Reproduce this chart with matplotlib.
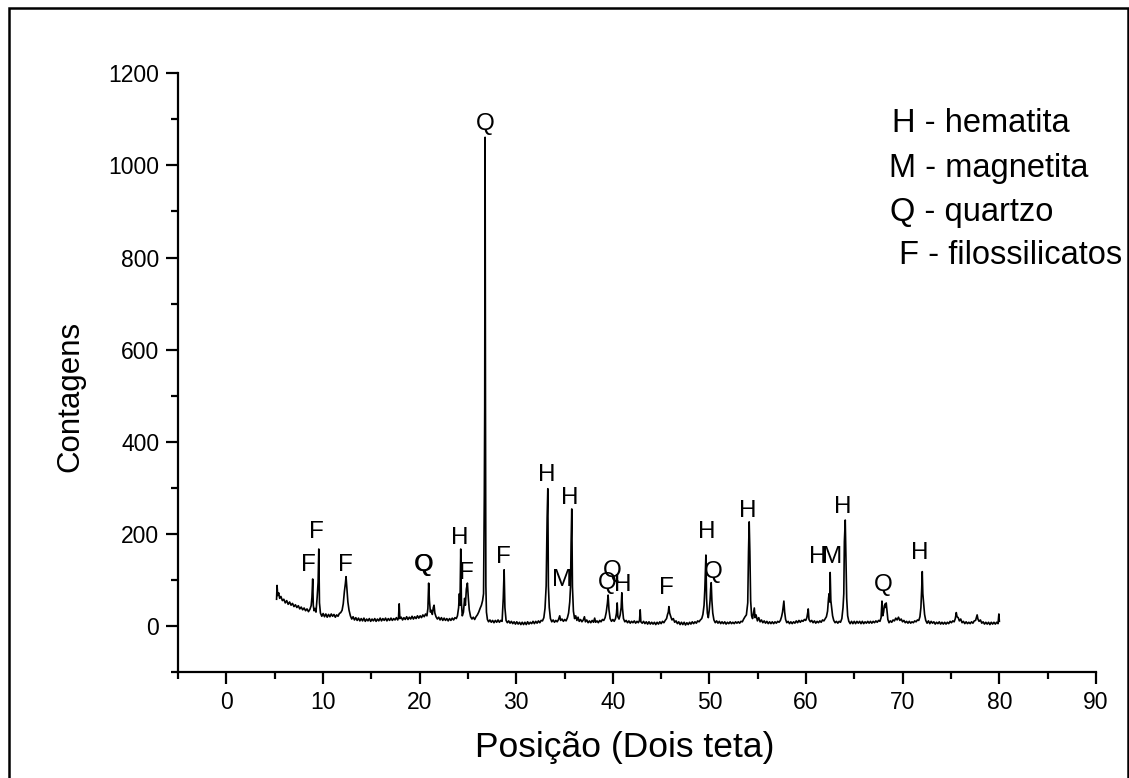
import matplotlib
matplotlib.use("Agg")
import matplotlib.pyplot as plt
from matplotlib.patches import Rectangle

plt.rcParams['font.family'] = ['Liberation Sans', 'DejaVu Sans']

# ---- measured diffraction scan: (2theta, counts) ----
scan_low = [(5.2,58),(5.25,88),(5.32,66),(5.42,72),(5.52,60),(5.65,64),(5.8,55),(5.95,58),(6.1,50),(6.25,55),(6.4,47),(6.55,52),(6.7,45),(6.85,49),(7.0,42),(7.15,46),(7.3,40),(7.45,44),(7.6,37),(7.75,41),(7.9,35),(8.05,39),(8.2,33),(8.35,37),(8.5,31),(8.65,36),(8.78,44),(8.86,62),(8.94,102),(9.0,45),(9.08,33),(9.18,38),(9.28,30),(9.4,62),(9.5,95),(9.57,167),(9.64,50),(9.74,28),(9.88,21),(10.02,27),(10.16,20),(10.3,26),(10.44,19),(10.58,25),(10.72,20),(10.86,26),(11.0,21),(11.14,25),(11.28,19),(11.42,24),(11.56,21),(11.7,27),(11.84,29),(11.98,34),(12.1,48),(12.22,75),(12.32,92),(12.39,107),(12.48,80),(12.58,52),(12.7,34),(12.84,22),(12.98,15),(13.12,20),(13.26,13),(13.4,18),(13.54,12),(13.68,17),(13.82,11),(13.96,16),(14.1,11),(14.24,17),(14.38,10),(14.52,15),(14.66,11),(14.8,16),(14.94,10),(15.08,15),(15.22,11),(15.36,16),(15.5,10),(15.64,15),(15.78,11),(15.92,17),(16.06,11),(16.2,16),(16.34,12),(16.48,17),(16.62,11),(16.76,16),(16.9,12),(17.04,17),(17.18,12),(17.32,16),(17.46,13),(17.6,18),(17.74,13),(17.82,18),(17.89,48),(17.96,16),(18.1,19),(18.24,13),(18.38,18),(18.52,14),(18.66,20),(18.8,14),(18.94,19),(19.08,15),(19.22,21),(19.36,15),(19.5,20),(19.64,16),(19.78,22),(19.92,17),(20.06,22),(20.2,18),(20.34,24),(20.48,20),(20.62,26),(20.76,22),(20.86,38),(20.94,93),(21.02,55),(21.12,30),(21.22,34),(21.32,25),(21.42,40),(21.5,45),(21.58,28),(21.7,20)]

scan_mid = [(21.84,15),(21.98,19),(22.12,13),(22.26,18),(22.4,12),(22.54,17),(22.68,12),(22.82,16),(22.96,11),(23.1,16),(23.24,12),(23.38,17),(23.52,13),(23.66,18),(23.8,16),(23.92,22),(24.04,40),(24.12,70),(24.18,45),(24.26,167),(24.33,50),(24.42,22),(24.54,30),(24.66,60),(24.74,45),(24.84,80),(24.95,93),(25.04,62),(25.14,35),(25.28,20),(25.42,15),(25.56,19),(25.7,14),(25.84,20),(25.98,24),(26.12,30),(26.26,38),(26.4,45),(26.52,55),(26.62,70),(26.7,285),(26.74,474),(26.78,1061),(26.82,474),(26.86,87),(26.92,30),(27.02,14),(27.14,9),(27.28,13),(27.42,8),(27.56,12),(27.7,7),(27.84,12),(27.98,8),(28.12,13),(28.26,8),(28.4,12),(28.54,10),(28.66,60),(28.75,122),(28.83,40),(28.95,12),(29.08,7),(29.22,11),(29.36,6),(29.5,10),(29.64,5),(29.78,9),(29.92,4),(30.06,9),(30.2,4),(30.34,8),(30.48,3),(30.62,8),(30.76,3),(30.9,8),(31.04,3),(31.18,9),(31.32,4),(31.46,8),(31.6,5),(31.74,10),(31.88,5),(32.02,10),(32.16,6),(32.3,11),(32.44,7),(32.58,12),(32.72,11),(32.86,18),(32.98,38),(33.1,87),(33.2,235),(33.27,298),(33.33,87),(33.42,40),(33.54,16),(33.68,9),(33.82,13),(33.96,8),(34.1,12),(34.24,9),(34.38,14),(34.5,22),(34.6,12),(34.74,15),(34.88,10),(35.02,14),(35.16,11),(35.3,18),(35.42,28),(35.54,52),(35.62,85),(35.68,180),(35.75,254),(35.82,85),(35.92,32),(36.04,16),(36.16,22),(36.28,12),(36.4,19),(36.52,10),(36.66,14),(36.8,9),(36.94,13),(37.06,20),(37.16,9),(37.3,13),(37.44,7),(37.58,11),(37.72,7),(37.86,12),(38.0,8),(38.12,17),(38.22,8),(38.36,11),(38.5,7),(38.64,12),(38.78,9),(38.92,14),(39.06,12),(39.2,18),(39.32,30),(39.44,50),(39.51,67),(39.6,35),(39.72,16),(39.86,10),(40.0,14),(40.14,10),(40.28,16),(40.38,28),(40.45,50),(40.52,20),(40.64,15),(40.76,24),(40.86,40),(40.93,72),(41.0,38),(41.1,16),(41.24,9),(41.38,12),(41.52,7),(41.66,11),(41.8,6),(41.94,10),(42.08,7),(42.22,11),(42.36,6),(42.5,10),(42.64,7),(42.76,12),(42.83,35),(42.9,9),(43.04,6),(43.18,10),(43.32,5),(43.46,9),(43.6,4),(43.74,9),(43.88,4),(44.02,8),(44.16,4),(44.3,8),(44.44,3),(44.58,8),(44.72,4),(44.86,9),(45.0,5),(45.14,10),(45.28,7),(45.42,12),(45.56,16),(45.66,25),(45.74,30),(45.8,42),(45.88,28),(46.0,20)]

scan_high = [(46.12,13),(46.26,16),(46.4,8),(46.54,11),(46.68,5),(46.82,9),(46.96,3),(47.1,8),(47.24,3),(47.38,8),(47.52,2),(47.66,7),(47.8,3),(47.94,8),(48.08,4),(48.22,9),(48.36,5),(48.5,9),(48.64,6),(48.78,11),(48.92,9),(49.06,13),(49.2,16),(49.32,25),(49.44,45),(49.52,80),(49.58,122),(49.63,154),(49.7,60),(49.78,28),(49.88,18),(49.98,35),(50.06,55),(50.12,80),(50.18,94),(50.25,55),(50.34,28),(50.46,13),(50.6,7),(50.74,11),(50.88,6),(51.02,10),(51.16,5),(51.3,9),(51.44,5),(51.58,9),(51.72,4),(51.86,8),(52.0,5),(52.14,9),(52.28,5),(52.42,8),(52.56,5),(52.7,9),(52.84,6),(52.98,9),(53.12,6),(53.26,10),(53.4,9),(53.54,15),(53.68,20),(53.82,24),(53.96,50),(54.04,161),(54.11,226),(54.18,161),(54.26,55),(54.36,22),(54.46,16),(54.56,28),(54.64,39),(54.72,18),(54.82,24),(54.96,11),(55.1,18),(55.24,9),(55.38,13),(55.52,7),(55.66,11),(55.8,6),(55.94,10),(56.08,5),(56.22,9),(56.36,5),(56.5,9),(56.64,5),(56.78,9),(56.92,6),(57.06,10),(57.2,8),(57.34,12),(57.46,20),(57.56,30),(57.64,44),(57.7,54),(57.78,30),(57.88,14),(58.0,7),(58.14,10),(58.28,5),(58.42,9),(58.56,5),(58.7,9),(58.84,6),(58.98,11),(59.12,7),(59.26,12),(59.4,8),(59.54,12),(59.68,10),(59.82,14),(59.96,12),(60.08,18),(60.16,28),(60.22,37),(60.3,14),(60.44,9),(60.58,12),(60.72,7),(60.86,11),(61.0,6),(61.14,10),(61.28,7),(61.42,11),(61.56,8),(61.7,13),(61.84,11),(61.98,16),(62.1,20),(62.22,32),(62.32,60),(62.38,70),(62.44,52),(62.49,116),(62.56,55),(62.64,40),(62.74,22),(62.86,12),(63.0,7),(63.14,10),(63.28,6),(63.42,10),(63.56,8),(63.7,16),(63.82,40),(63.9,70),(63.96,183),(64.05,230),(64.12,150),(64.2,60),(64.3,22),(64.42,10),(64.56,5),(64.7,10),(64.84,5),(64.98,10),(65.12,5),(65.26,10),(65.4,6),(65.54,10),(65.68,5),(65.82,10),(65.96,5),(66.1,9),(66.24,6),(66.38,10),(66.52,6),(66.66,10),(66.8,6),(66.94,10),(67.08,7),(67.22,11),(67.36,8),(67.5,12),(67.64,10),(67.76,18),(67.85,54),(67.93,22),(68.02,30),(68.1,44),(68.18,48),(68.24,40),(68.29,50),(68.36,36),(68.46,14),(68.58,7),(68.72,11),(68.86,8),(69.0,13),(69.14,11),(69.28,17),(69.42,13),(69.56,19),(69.7,12),(69.84,15),(69.98,9),(70.12,12),(70.26,7),(70.4,10),(70.54,6),(70.68,10),(70.82,6),(70.96,9),(71.1,7),(71.24,11),(71.38,9),(71.52,13),(71.66,12),(71.78,20),(71.88,40),(71.96,80),(72.02,118),(72.08,70),(72.16,50),(72.26,25),(72.38,12),(72.52,6),(72.66,11),(72.8,5),(72.94,10),(73.08,6),(73.22,9),(73.36,4),(73.5,8),(73.64,5),(73.78,9),(73.92,4),(74.06,8),(74.2,4),(74.34,8),(74.48,4),(74.62,8),(74.76,5),(74.9,10),(75.04,7),(75.18,11),(75.32,9),(75.44,16),(75.54,29),(75.62,20),(75.74,18),(75.86,11),(76.0,15),(76.14,7),(76.28,10),(76.42,5),(76.56,9),(76.7,5),(76.84,8),(76.98,5),(77.12,9),(77.26,6),(77.4,11),(77.54,12),(77.62,18),(77.7,24),(77.78,15),(77.9,10),(78.04,13),(78.18,6),(78.32,9),(78.46,4),(78.6,8),(78.74,4),(78.88,8),(79.02,3),(79.16,8),(79.3,4),(79.44,8),(79.58,4),(79.72,8),(79.86,5),(79.95,26),(80.0,10)]

# ---- phase labels above peaks ----
phase_labels = ["F", "F", "F", "Q", "H", "F", "Q", "F", "H", "M", "H",
                "Q", "Q", "H", "F", "H", "Q", "H", "H", "M", "H", "Q", "H"]
label_x = [8.52, 9.29, 12.29, 20.39, 24.12, 24.89, 26.78, 28.69, 33.17, 34.72, 35.51,
           39.38, 39.90, 41.04, 45.59, 49.73, 50.35, 54.00, 61.20, 62.67, 63.84, 67.95, 71.81]
label_y = [132, 204, 132, 132, 191, 115, 1090, 150, 328, 100, 278,
           93, 120, 89, 82, 204, 118, 250, 150, 150, 258, 89, 159]

legend_lines = ["H - hematita", "M - magnetita", "Q - quartzo", " F - filossilicatos"]

x_ticks = [0, 10, 20, 30, 40, 50, 60, 70, 80, 90]
y_ticks = [0, 200, 400, 600, 800, 1000, 1200]

W, H = 1129, 778
fig = plt.figure(figsize=(W / 100, H / 100), dpi=100)
ax = fig.add_axes([178 / W, 1 - 672 / H, (1096 - 178) / W, (672 - 73.3) / H])

scan = scan_low + scan_mid + scan_high
two_theta = [p[0] for p in scan]
counts = [p[1] for p in scan]
ax.plot(two_theta, counts, color='black', lw=1.2)

ax.set_xlim(-5, 90)
ax.set_ylim(-100, 1200)
ax.set_xticks(x_ticks)
ax.set_xticks([t - 5 for t in x_ticks], minor=True)
ax.set_yticks(y_ticks)
ax.set_yticks([t - 100 for t in y_ticks], minor=True)
for s in ['top', 'right']:
    ax.spines[s].set_visible(False)
for s in ['left', 'bottom']:
    ax.spines[s].set_linewidth(1.6)
ax.tick_params(which='major', direction='out', length=8.5, width=1.6, labelsize=16.5, pad=5)
ax.tick_params(which='minor', direction='out', length=5, width=1.6)

for lab, lx, ly in zip(phase_labels, label_x, label_y):
    ax.text(lx, ly, lab, ha='center', va='center', fontsize=17.5, color='black')
# the Q near 21 degrees is printed twice (appears bold)
ax.text(label_x[3] + 0.08, label_y[3], phase_labels[3], ha='center', va='center', fontsize=17.5, color='black')

fig.text(625 / W, 1 - 747 / H, "Posição (Dois teta)", ha='center', va='center', fontsize=25.5)
fig.text(70 / W, 1 - 396 / H, "Contagens", ha='center', va='center', fontsize=22.5, rotation=90)

leg_x = [892, 889, 890, 890]
leg_y = [123, 168, 213, 256]
for t, lx, ly in zip(legend_lines, leg_x, leg_y):
    fig.text(lx / W, 1 - ly / H, t, ha='left', va='center', fontsize=23.5)

fig.patches.append(Rectangle((8.5 / W, -0.05), (1127.5 - 8.5) / W, 1.05 - 8.5 / H,
                             transform=fig.transFigure, fill=False, lw=1.8, ec='black'))

fig.savefig("out.png", dpi=100)
